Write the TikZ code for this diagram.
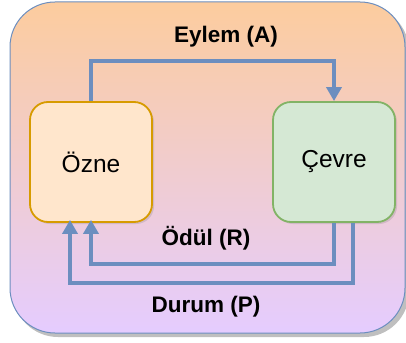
\documentclass[tikz,border=0pt]{standalone}
\usepackage{fontspec}
\setmainfont{Liberation Sans}
\usetikzlibrary{arrows.meta,shadows}
\definecolor{topfill}{RGB}{252,204,158}
\definecolor{botfill}{RGB}{229,204,255}
\definecolor{frameline}{RGB}{108,142,191}
\definecolor{agentfill}{RGB}{255,230,204}
\definecolor{agentline}{RGB}{215,155,0}
\definecolor{envfill}{RGB}{213,232,212}
\definecolor{envline}{RGB}{130,179,102}
\definecolor{flow}{RGB}{108,142,191}
\tikzset{
  block/.style={draw, line width=1.8pt, rounded corners=18pt,
    minimum width=122pt, minimum height=120pt, font=\fontsize{24.5}{28}\selectfont,
    drop shadow={shadow xshift=2pt, shadow yshift=-2pt, opacity=0.25}},
  flowline/.style={draw=flow, line width=3.5pt,
    -{Triangle[length=14pt,width=15pt]}},
  flowlabel/.style={font=\bfseries\fontsize{22.5}{26}\selectfont},
}
\begin{document}
\begin{tikzpicture}[x=1pt,y=-1pt]
  \useasboundingbox (0,0) rectangle (406,342);
  % background panel with shadow
  \fill[black,opacity=0.25,rounded corners=45pt] (13,6) rectangle (409,337);
  \shade[top color=topfill, bottom color=botfill, rounded corners=45pt]
    (10,2) rectangle (405,333);
  \draw[frameline, line width=1pt, rounded corners=45pt] (10,2) rectangle (405,333);

  % agent and environment
  \node[block, fill=agentfill, draw=agentline] (ozne) at (91,162) {Özne};
  \node[block, fill=envfill, draw=envline] (cevre) at (334,162) {Çevre};

  % action
  \draw[flowline] (ozne.north) -- ++(0,-40) coordinate (a1) -| (cevre.north);
  % reward
  \draw[flowline] (cevre.south) -- ++(0,41) -| ([yshift=3pt]ozne.south);
  % state
  \draw[flowline] ([xshift=19pt]cevre.south) -- ++(0,60)
    -| ([xshift=-21pt,yshift=3pt]ozne.south);

  % labels
  \node[flowlabel] (lA) at (226,37) {Eylem (A)};
  \node[flowlabel] (lR) at (206,238) {Ödül (R)};
  \node[flowlabel] (lP) at (206,307) {Durum (P)};
\end{tikzpicture}
\end{document}
